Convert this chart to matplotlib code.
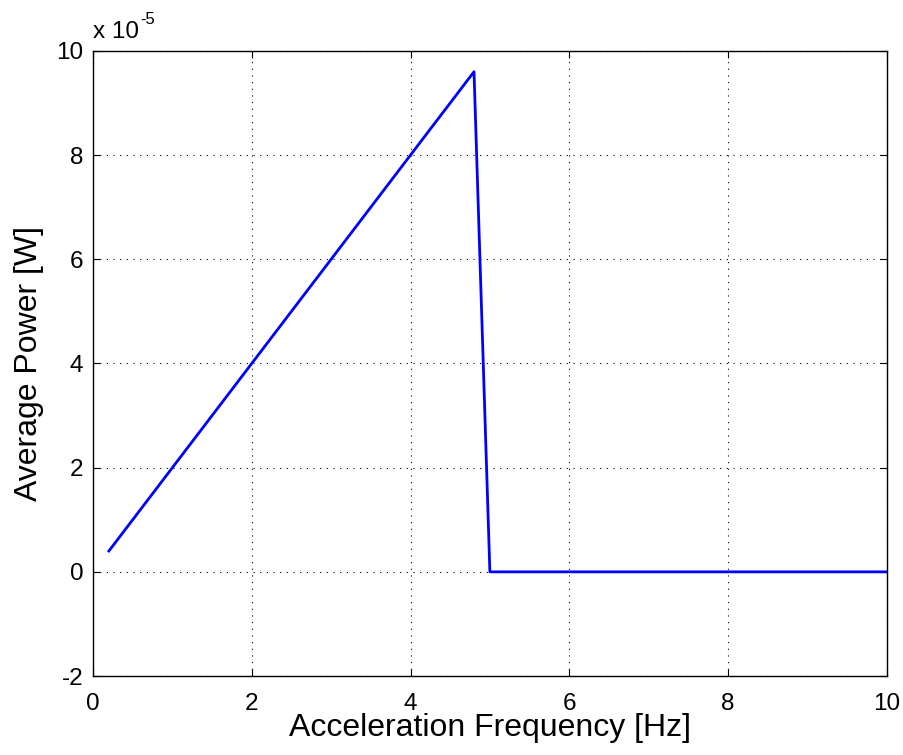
import matplotlib
matplotlib.use("Agg")
import matplotlib.pyplot as plt

freq = [0.2, 1.0, 2.0, 3.0, 4.0, 4.8, 5.0, 6.0, 7.0, 8.0, 9.0, 10.0]
power_e5 = [0.4, 2.0, 4.0, 6.0, 8.0, 9.6, 0.0, 0.0, 0.0, 0.0, 0.0, 0.0]
xticks = [0, 2, 4, 6, 8, 10]
yticks = [-2, 0, 2, 4, 6, 8, 10]

plt.rcParams['font.family'] = ['Liberation Sans', 'DejaVu Sans']
plt.rcParams['axes.unicode_minus'] = False

fig = plt.figure(figsize=(9.04, 7.55), dpi=100)
ax = fig.add_axes([0.1029, 0.1046, 0.878, 0.828])
ax.plot(freq, power_e5, color='#0000ff', linewidth=2.0)
ax.set_xlim(0, 10)
ax.set_ylim(-2, 10)
ax.set_xticks(xticks)
ax.set_yticks(yticks)
ax.set_xticklabels([str(t) for t in xticks])
ax.set_yticklabels([str(t) for t in yticks])
ax.grid(True, linestyle=(0, (1, 5)), color='black', linewidth=0.8)
ax.tick_params(direction='in', top=True, right=True, length=5, width=0.8,
               labelsize=17.5)
ax.tick_params(axis='x', pad=12)
ax.tick_params(axis='y', pad=7)
for s in ax.spines.values():
    s.set_linewidth(1.0)
ax.set_xlabel('Acceleration Frequency [Hz]', fontsize=23, labelpad=-1)
ax.set_ylabel('Average Power [W]', fontsize=23, labelpad=9)
t = ax.text(0.0, 1.012, 'x 10', transform=ax.transAxes, fontsize=17.5,
            ha='left', va='bottom')
ax.annotate('-5', xy=(1, 0.75), xycoords=t, xytext=(1, 0),
            textcoords='offset points', fontsize=12, ha='left', va='bottom')
fig.savefig('out.png', dpi=100)
